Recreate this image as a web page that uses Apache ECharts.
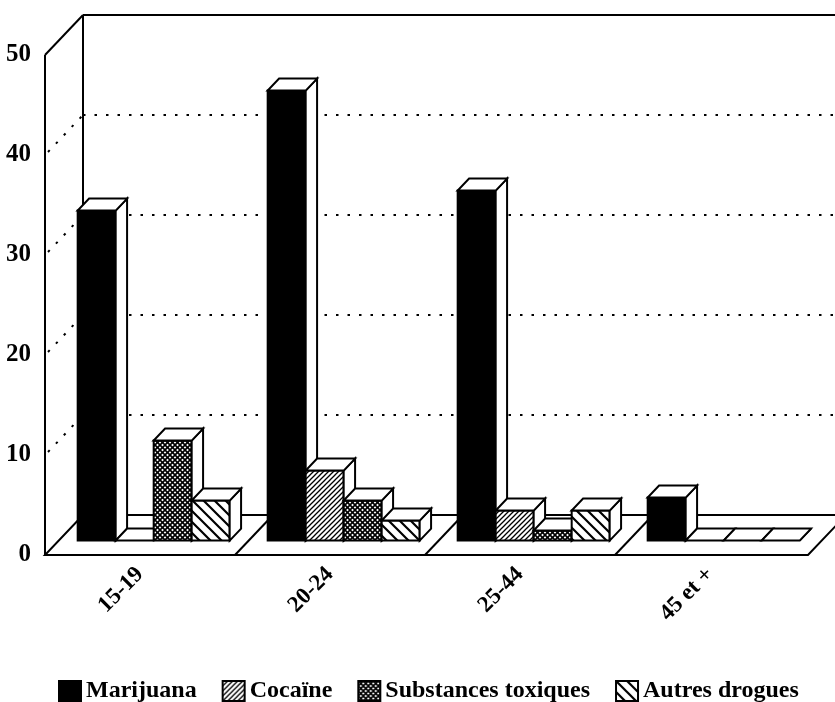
<!DOCTYPE html>
<html>
<head>
<meta charset="utf-8">
<title>Consommation de drogues selon l'âge</title>
<script src="https://cdn.jsdelivr.net/npm/echarts@6/dist/echarts.min.js"></script>
<style>
  html, body { margin: 0; padding: 0; background: #fff; }
  #chart { width: 835px; height: 702px; }
</style>
</head>
<body>
<div id="chart"></div>
<script>
// Age groups and percentage values per drug
const categories = ['15-19', '20-24', '25-44', '45 et +'];
const seriesNames = ['Marijuana', 'Cocaïne', 'Substances toxiques', 'Autres drogues'];
const marijuana = [33, 45, 35, 4.3];
const cocaine = [0, 7, 3, 0];
const substances = [10, 4, 1, 0];
const autres = [4, 2, 3, 0];
const yMin = 0, yMax = 50, yStep = 10;

// Perspective vector from the front plane to the back wall (pixels)
const DEPTH_X = 38, DEPTH_Y = -40;
// Bars stand in a band between these fractions of the depth
const BAR_FRONT = 0.36, BAR_BACK = 0.66;
const INK = '#000';
const FONT = 'Liberation Serif';

function makePattern(size, draw) {
  const c = document.createElement('canvas');
  c.width = size; c.height = size;
  const g = c.getContext('2d');
  g.fillStyle = '#fff';
  g.fillRect(0, 0, size, size);
  g.strokeStyle = '#000';
  draw(g, size);
  return { image: c, repeat: 'repeat' };
}
function slash(g, s) {           // "/" strokes, seamless
  g.beginPath();
  g.moveTo(-1, s + 1); g.lineTo(s + 1, -1);
  g.moveTo(-1, 1); g.lineTo(1, -1);
  g.moveTo(s - 1, s + 1); g.lineTo(s + 1, s - 1);
  g.stroke();
}
function backslash(g, s) {       // "\" strokes, seamless
  g.beginPath();
  g.moveTo(-1, -1); g.lineTo(s + 1, s + 1);
  g.moveTo(s - 1, -1); g.lineTo(s + 1, 1);
  g.moveTo(-1, s - 1); g.lineTo(1, s + 1);
  g.stroke();
}
const fills = [
  '#000',
  makePattern(5, (g, s) => { g.lineWidth = 1.3; slash(g, s); }),
  makePattern(5, (g, s) => { g.lineWidth = 1.6; slash(g, s); backslash(g, s); }),
  makePattern(11, (g, s) => { g.lineWidth = 2.2; backslash(g, s); })
];
const values = [marijuana, cocaine, substances, autres];

// 3D bar: front face with the series fill, white top and right side
function barRenderer(seriesIdx) {
  return function (params, api) {
    const cat = api.value(0);
    const val = api.value(1);
    const base = api.coord([cat, 0]);
    const top = api.coord([cat, val]);
    const band = api.size([1, 0])[0];
    const w = band * 0.2;
    const fx = DEPTH_X * BAR_FRONT, fy = DEPTH_Y * BAR_FRONT;
    const dx = DEPTH_X * (BAR_BACK - BAR_FRONT), dy = DEPTH_Y * (BAR_BACK - BAR_FRONT);
    const x0 = base[0] - 2 * w + seriesIdx * w + fx;
    const x1 = x0 + w;
    const yb = base[1] + fy;
    const yt = top[1] + fy;
    const line = { stroke: INK, lineWidth: 2, lineJoin: 'miter' };
    const children = [];
    if (yb - yt > 0.5) {
      children.push({ type: 'polygon', shape: { points: [[x0, yb], [x1, yb], [x1, yt], [x0, yt]] },
        style: Object.assign({ fill: fills[seriesIdx] }, line) });
    }
    children.push({ type: 'polygon', shape: { points: [[x1, yb], [x1 + dx, yb + dy], [x1 + dx, yt + dy], [x1, yt]] },
      style: Object.assign({ fill: '#fff' }, line) });
    children.push({ type: 'polygon', shape: { points: [[x0, yt], [x1, yt], [x1 + dx, yt + dy], [x0 + dx, yt + dy]] },
      style: Object.assign({ fill: '#fff' }, line) });
    return { type: 'group', children: children };
  };
}

// Walls, floor and perspective gridlines
function frameRenderer(params, api) {
  const first = api.coord([0, yMin]);
  const band = api.size([1, 0])[0];
  const L = first[0] - band / 2;
  const R = L + band * categories.length;
  const y0 = first[1];
  const yTop = api.coord([0, yMax])[1];
  const farRight = R + DEPTH_X + 60;
  const solid = { stroke: INK, lineWidth: 2, fill: null };
  const dotted = { stroke: INK, lineWidth: 2, lineDash: [2.5, 9], fill: null };
  const els = [];
  // floor
  els.push({ type: 'polygon', shape: { points: [[L, y0], [R + 3, y0], [R + 3 + DEPTH_X, y0 + DEPTH_Y], [farRight, y0 + DEPTH_Y], [L + DEPTH_X, y0 + DEPTH_Y]] },
    style: { fill: '#fff', stroke: INK, lineWidth: 2 } });
  for (let k = 1; k < categories.length; k++) {
    const x = L + band * k;
    els.push({ type: 'line', shape: { x1: x, y1: y0, x2: x + DEPTH_X, y2: y0 + DEPTH_Y }, style: solid });
  }
  // left wall edges
  els.push({ type: 'line', shape: { x1: L, y1: y0, x2: L, y2: yTop }, style: solid });
  els.push({ type: 'line', shape: { x1: L, y1: yTop, x2: L + DEPTH_X, y2: yTop + DEPTH_Y }, style: solid });
  els.push({ type: 'line', shape: { x1: L + DEPTH_X, y1: yTop + DEPTH_Y, x2: L + DEPTH_X, y2: y0 + DEPTH_Y }, style: solid });
  // back wall top edge
  els.push({ type: 'line', shape: { x1: L + DEPTH_X, y1: yTop + DEPTH_Y, x2: farRight, y2: yTop + DEPTH_Y }, style: solid });
  // gridlines
  for (let v = yMin + yStep; v < yMax; v += yStep) {
    const y = api.coord([0, v])[1];
    els.push({ type: 'line', shape: { x1: L + 3, y1: y - 3, x2: L + DEPTH_X, y2: y + DEPTH_Y }, style: dotted });
    els.push({ type: 'line', shape: { x1: L + DEPTH_X, y1: y + DEPTH_Y, x2: farRight, y2: y + DEPTH_Y }, style: dotted });
  }
  return { type: 'group', children: els };
}

const series = [{
  name: 'frame',
  type: 'custom',
  renderItem: frameRenderer,
  data: [[0, 0]],
  silent: true,
  z: 1,
  clip: false
}];
seriesNames.forEach((name, i) => {
  series.push({
    name: name,
    type: 'custom',
    renderItem: barRenderer(i),
    itemStyle: { color: fills[i], borderColor: INK, borderWidth: 1.5 },
    data: categories.map((c, j) => [j, values[i][j]]),
    z: 2 + i,
    clip: false
  });
});

const chart = echarts.init(document.getElementById('chart'), null, { renderer: 'canvas' });
chart.setOption({
  backgroundColor: '#fff',
  animation: false,
  grid: { left: 45, right: 30, top: 55, bottom: 147 },
  xAxis: {
    type: 'category',
    data: categories,
    axisLine: { show: false },
    axisTick: { show: false },
    splitLine: { show: false },
    axisLabel: {
      rotate: 45,
      margin: 16,
      color: INK,
      fontFamily: FONT,
      fontWeight: 'bold',
      fontSize: 23,
      interval: 0
    }
  },
  yAxis: {
    type: 'value',
    min: yMin,
    max: yMax,
    interval: yStep,
    axisLine: { show: false },
    axisTick: { show: false },
    splitLine: { show: false },
    axisLabel: {
      margin: 14,
      color: INK,
      fontFamily: FONT,
      fontWeight: 'bold',
      fontSize: 25
    }
  },
  legend: {
    data: seriesNames,
    left: 53,
    top: 674,
    icon: 'rect',
    itemWidth: 22,
    itemHeight: 20,
    itemGap: 25,
    textStyle: { color: INK, fontFamily: FONT, fontWeight: 'bold', fontSize: 24 }
  },
  series: series
});
</script>
</body>
</html>
